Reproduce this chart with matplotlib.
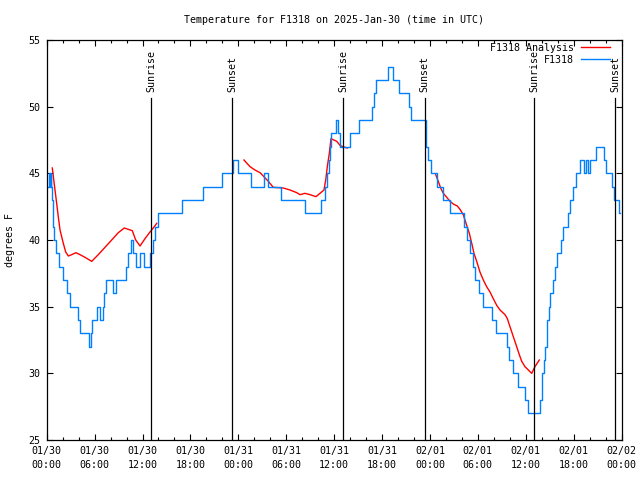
import numpy as np
import matplotlib
matplotlib.use("Agg")
import matplotlib.pyplot as plt

title = "Temperature for F1318 on 2025-Jan-30 (time in UTC)"
ylabel = "degrees F"

tick_hours = [0, 6, 12, 18, 24, 30, 36, 42, 48, 54, 60, 66, 72]
tick_dates = ["01/30", "01/30", "01/30", "01/30", "01/31", "01/31", "01/31",
              "01/31", "02/01", "02/01", "02/01", "02/01", "02/02"]
tick_times = ["00:00", "06:00", "12:00", "18:00"] * 3 + ["00:00"]
y_ticks = [25, 30, 35, 40, 45, 50, 55]

# observed temperature (F1318), hours since 01/30 00:00 UTC
obs_hours = [0.20, 0.33, 0.41, 0.50, 0.58, 0.64, 0.73, 0.81, 0.94, 1.14,
             1.48, 1.98, 2.54, 2.86, 3.86, 4.11, 5.34, 5.51, 5.67, 6.34,
             6.68, 7.05, 7.18, 7.43, 8.34, 8.68, 9.90, 10.18, 10.60, 10.85,
             11.15, 11.69, 12.23, 12.94, 13.32, 13.57, 13.94, 16.89, 19.62, 21.96,
             23.37, 23.90, 25.65, 27.16, 27.66, 29.41, 32.35, 34.40, 34.92, 35.17,
             35.36, 35.49, 35.61, 36.30, 36.49, 36.68, 38.05, 39.06, 40.81, 41.00,
             41.19, 42.69, 43.38, 44.13, 45.38, 45.57, 47.45, 47.55, 47.76, 48.14,
             48.83, 49.58, 50.52, 52.27, 52.65, 53.02, 53.34, 53.71, 54.15, 54.71,
             55.84, 56.28, 57.60, 57.91, 58.35, 59.04, 59.91, 60.23, 61.85, 61.98,
             62.10, 62.23, 62.42, 62.61, 62.73, 62.92, 63.05, 63.36, 63.61, 63.92,
             64.42, 64.67, 65.24, 65.55, 65.93, 66.30, 66.86, 67.36, 67.55, 67.80,
             68.06, 68.84, 69.87, 70.12, 70.81, 71.12, 71.69, 71.86]
obs_temps = [44, 45, 44, 45, 44, 43, 42, 41, 40, 39,
             38, 37, 36, 35, 34, 33, 32, 33, 34, 35,
             34, 35, 36, 37, 36, 37, 38, 39, 40, 39,
             38, 39, 38, 39, 40, 41, 42, 43, 44, 45,
             46, 45, 44, 45, 44, 43, 42, 43, 44, 45,
             46, 47, 48, 49, 48, 47, 48, 49, 50, 51,
             52, 53, 52, 51, 50, 49, 48, 47, 46, 45,
             44, 43, 42, 41, 40, 39, 38, 37, 36, 35,
             34, 33, 32, 31, 30, 29, 28, 27, 28, 29,
             30, 31, 32, 33, 34, 35, 36, 37, 38, 39,
             40, 41, 42, 43, 44, 45, 46, 45, 46, 45,
             46, 47, 46, 45, 44, 43, 42, 42]

# analysis (three segments separated by gaps)
ana_hours = [0.70, 1.04, 1.25, 1.45, 1.67, 2.08, 2.38, 2.71, 3.13, 3.67,
             4.17, 4.80, 5.64, 6.46, 7.30, 8.14, 8.97, 9.72, 10.22, 10.72,
             11.15, 11.69, 12.31, 12.94, 13.48, 13.78, np.nan,
             24.71, 25.47, 26.09, 26.72, 27.13, 27.76, 28.38, 29.64, 30.48, 31.32,
             31.73, 32.35, 32.98, 33.73, 34.23, 34.73, 34.95, 35.15, 35.40, 35.61,
             36.33, 36.74, 37.08, 37.65, np.nan,
             48.73, 49.05, 49.35, 49.68, 50.11, 50.52, 50.93, 51.43, 51.77, 52.18,
             52.61, 52.94, 53.24, 53.52, 53.86, 54.27, 54.69, 55.11, 55.53, 55.94,
             56.37, 56.78, 57.41, 57.70, 58.03, 58.45, 58.87, 59.20, 59.50, 59.91,
             60.33, 60.75, 61.16, 61.70]
ana_temps = [45.4, 43.75, 42.75, 41.75, 40.75, 39.75, 39.1, 38.8, 38.9, 39.05,
             38.9, 38.7, 38.4, 38.9, 39.45, 40.0, 40.55, 40.9, 40.8, 40.7,
             40.0, 39.55, 40.1, 40.6, 41.0, 41.25, np.nan,
             46.0, 45.5, 45.25, 45.05, 44.8, 44.4, 43.95, 43.9, 43.75, 43.55,
             43.4, 43.5, 43.4, 43.25, 43.5, 43.75, 44.5, 45.5, 46.5, 47.6,
             47.4, 47.1, 47.0, 46.9, np.nan,
             44.9, 44.4, 43.9, 43.5, 43.2, 42.9, 42.7, 42.55, 42.3, 41.9,
             41.1, 40.5, 39.75, 39.0, 38.4, 37.6, 37.0, 36.5, 36.1, 35.6,
             35.1, 34.75, 34.4, 34.1, 33.5, 32.75, 32.0, 31.4, 30.9, 30.5,
             30.25, 30.0, 30.5, 31.0]

sun_hours = [13.12, 23.25, 37.15, 47.33, 61.08, 71.24]
sun_labels = ["Sunrise", "Sunset", "Sunrise", "Sunset", "Sunrise", "Sunset"]

FONT = "DejaVu Sans Mono"
FS = 7.2
plt.rcParams["font.family"] = FONT

fig = plt.figure(figsize=(6.4, 4.8), dpi=100)
ax = fig.add_axes([46.7 / 640, 40 / 480, 574.8 / 640, 400 / 480])

ax.plot(ana_hours, ana_temps, color="#ff0000", lw=1.0, label="F1318 Analysis")
ax.plot(obs_hours, obs_temps, color="#0080ff", lw=1.0, drawstyle="steps-post",
        label="F1318")

for h, lab in zip(sun_hours, sun_labels):
    ax.plot([h, h], [25, 50.65], color="black", lw=0.9)
    ax.text(h, 51.1, lab, rotation=90, ha="center", va="bottom",
            fontsize=FS, family=FONT)

ax.set_xlim(0, 72)
ax.set_ylim(25, 55)
ax.set_xticks(tick_hours)
ax.set_xticklabels([f"{d}\n{t}" for d, t in zip(tick_dates, tick_times)],
                   fontsize=FS, linespacing=1.45)
ax.set_xticks(np.arange(0, 73, 2), minor=True)
ax.set_yticks(y_ticks)
ax.set_yticklabels([str(v) for v in y_ticks], fontsize=FS)
ax.tick_params(which="major", direction="in", length=4.5, width=0.8,
               top=True, right=True, pad=4.5)
ax.tick_params(which="minor", direction="in", length=2.2, width=0.8,
               top=True, right=False, left=False)
for s in ax.spines.values():
    s.set_linewidth(0.9)

fig.text(334 / 640, 1 - 20 / 480, title, ha="center", va="center", fontsize=FS)
fig.text(10 / 640, 0.5, ylabel, rotation=90, ha="center", va="center", fontsize=FS)

leg = ax.legend(loc="upper right", bbox_to_anchor=(1 - 12 / 574.8, 1 - 3 / 400),
                frameon=False, markerfirst=False, fontsize=FS,
                handlelength=2.9, handletextpad=0.65, labelspacing=0.2,
                borderpad=0, borderaxespad=0)

fig.savefig("out.png", dpi=100)
